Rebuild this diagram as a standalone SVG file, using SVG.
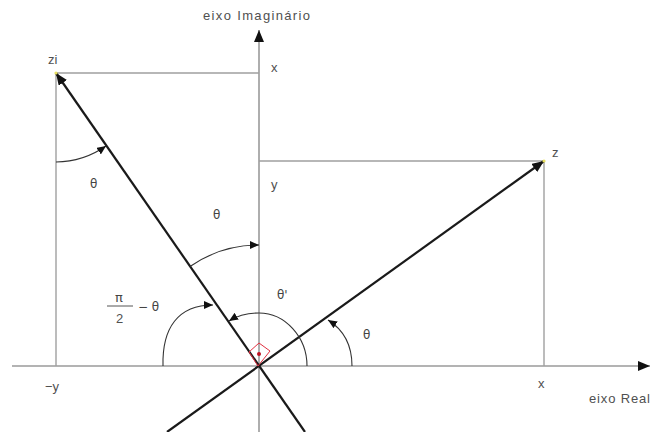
<svg xmlns="http://www.w3.org/2000/svg" width="651" height="432" viewBox="0 0 651 432">
<style>
.ax{stroke:#9a9a9a;stroke-width:1.6;fill:none}
.pr{stroke:#a0a0a0;stroke-width:1.4;fill:none}
.vec{stroke:#1a1a1a;stroke-width:2.2;fill:none}
.arc{stroke:#333;stroke-width:1.1;fill:none}
text{font-family:"Liberation Sans",Arial,sans-serif;font-size:13px;fill:#505050}
.th{font-family:"DejaVu Sans","Liberation Sans",sans-serif;font-size:12px;fill:#444}
</style>
<defs>
<marker id="ah" markerUnits="userSpaceOnUse" markerWidth="14" markerHeight="10" refX="12" refY="5" orient="auto"><path d="M0,0 L12,5 L0,10 Z" fill="#111"/></marker>
<marker id="sh" markerUnits="userSpaceOnUse" markerWidth="10" markerHeight="8" refX="9" refY="4" orient="auto"><path d="M0,0 L9,4 L0,8 Z" fill="#111"/></marker>
</defs>
<rect width="651" height="432" fill="#fff"/>
<g id="axes">
<line class="ax" x1="12" y1="366" x2="650" y2="366" marker-end="url(#ah)"/>
<line class="ax" x1="259" y1="432" x2="259" y2="30" marker-end="url(#ah)"/>
</g>
<g id="projections">
<polyline class="pr" points="259,73 56,73 56,366"/>
<polyline class="pr" points="259,161 544,161 544,366"/>
</g>
<g id="connectors">
<line class="vec" x1="167" y1="432" x2="544" y2="161" marker-end="url(#ah)"/>
<line class="vec" x1="305" y1="432" x2="56" y2="73" marker-end="url(#ah)"/>
<path class="arc" d="M56,162 A89,89 0 0 0 106,146" marker-end="url(#sh)"/>
<path class="arc" d="M190,266.5 A121,121 0 0 1 259,245" marker-end="url(#sh)"/>
<path class="arc" d="M163,366 C162,328 178,305 213,305" marker-end="url(#sh)"/>
<path class="arc" d="M307,366 C307,337 285,313 259,313 C247,313 237,316 229,321" marker-end="url(#sh)"/>
<path class="arc" d="M352,366 C352,345 344,330 328,320" marker-end="url(#sh)"/>
</g>
<g id="right-angle">
<polygon points="258,366 249,352 259,343 270,351" fill="none" stroke="#e03040" stroke-width="1"/>
<circle cx="259" cy="354" r="2" fill="#c01020"/>
</g>
<g id="points">
<circle cx="56" cy="73" r="1.6" fill="#e8e060"/>
<circle cx="544" cy="161" r="1.6" fill="#e8e060"/>
</g>
<g id="labels">
<text x="203" y="20" textLength="107">eixo Imaginário</text>
<text x="589" y="403" textLength="61">eixo Real</text>
<text x="48" y="64">zi</text>
<text x="552" y="157">z</text>
<text x="271" y="72">x</text>
<text x="271" y="189">y</text>
<text x="45" y="391">−y</text>
<text x="538" y="388">x</text>
<text class="th" x="90" y="188">θ</text>
<text class="th" x="213" y="219">θ</text>
<text class="th" x="277" y="299">θ'</text>
<text class="th" x="363" y="339">θ</text>
<text class="th" x="115" y="302" style="font-size:13px">π</text>
<line x1="107" y1="306" x2="133" y2="306" stroke="#555" stroke-width="1"/>
<text x="116" y="323">2</text>
<text class="th" x="138" y="311">−  θ</text>
</g>
</svg>
